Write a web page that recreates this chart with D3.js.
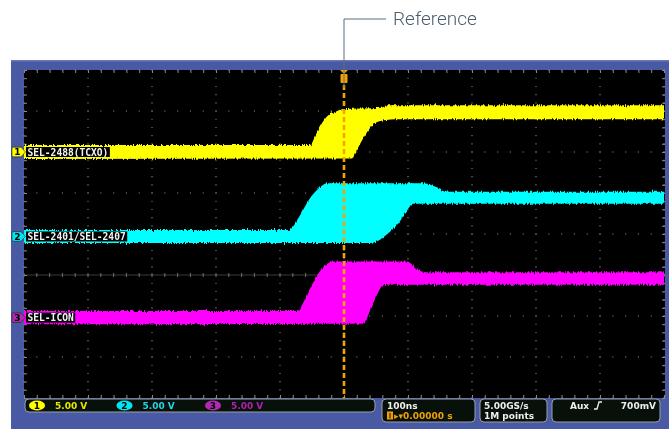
<!DOCTYPE html>
<html lang="en">
<head>
<meta charset="UTF-8">
<title>Reference</title>
<style>
  body { margin: 0; background: #fff; }
  svg { display: block; }
</style>
</head>
<body>
<div id="chart"></div>
<script src="https://cdn.jsdelivr.net/npm/d3@7"></script>
<script>
    const width = 669, height = 429;

    // scope setup
    const timeDomain = [-500, 500];          // ns, 100 ns/div
    const divDomain = [-4, 4];               // 8 vertical divisions
    const voltsPerDiv = [5, 5, 5];
    const chOffsetDiv = [2.0, -0.06, -2.04];
    const chNames = ["SEL-2488(TCXO)", "SEL-2401/SEL-2407", "SEL-ICON"];
    const chColors = ["#ffff00", "#00ffff", "#ff00ff"];
    const chMarkColors = ["#ffff00", "#00e5f0", "#b02ab0"];
    const statusVolts = ["5.00 V", "5.00 V", "5.00 V"];
    const statusTextColors = ["#e6e600", "#1fd6e6", "#b020b0"];
    const timeBase = ["100ns", "0.00000 s"];
    const acq = ["5.00GS/s", "1M points"];
    const trig = ["Aux", "700mV"];

    // persistence envelopes [time ns, volts]: earliest edge (upper) and latest edge (lower)
    const ch1Upper = [[-500, 0.85], [-53, 0.85], [-44, 2.1], [-36, 3.3], [-27, 4.3], [-13, 4.9], [-3, 5.2], [58, 5.4], [68, 5.7], [500, 5.7]];
    const ch1Lower = [[-500, -0.85], [12, -0.8], [20, 0.25], [31, 1.8], [42, 3.05], [52, 3.65], [66, 3.9], [80, 4.0], [500, 4.0]];
    const ch2Upper = [[-500, 0.8], [-86, 0.8], [-70, 2.4], [-55, 4.45], [-39, 5.9], [-27, 6.5], [125, 6.5], [145, 6.0], [165, 5.45], [500, 5.45]];
    const ch2Lower = [[-500, -0.8], [40, -0.8], [50, -0.65], [70, 0.45], [86, 1.7], [97, 3.0], [108, 4.0], [500, 4.0]];
    const ch3Upper = [[-500, 0.8], [-73, 0.8], [-62, 2.1], [-52, 3.7], [-39, 5.5], [-27, 6.5], [-18, 6.85], [98, 6.85], [107, 6.45], [116, 5.8], [128, 5.55], [500, 5.55]];
    const ch3Lower = [[-500, -0.8], [31, -0.75], [39, 0.55], [47, 2.0], [55, 3.35], [61, 3.95], [75, 4.0], [500, 4.0]];

    const envelopes = [[ch1Upper, ch1Lower], [ch2Upper, ch2Lower], [ch3Upper, ch3Lower]];

    const plot = {"left": 24, "right": 665, "top": 70, "bottom": 398};

    const x = d3.scaleLinear().domain(timeDomain).range([24, 664]);
    const y = d3.scaleLinear().domain(divDomain).range([plot.bottom, plot.top]);
    const chY = (ch, v) => y(chOffsetDiv[ch] + v / voltsPerDiv[ch]);

    const svg = d3.select("#chart")
        .append("svg")
        .attr("width", width)
        .attr("height", height)
        .style("font-family", "'DejaVu Sans', sans-serif");

    const defs = svg.append("defs");

    // jagged noise on the trace bands
    const f = defs.append("filter").attr("id", "noise")
        .attr("x", "-2%").attr("y", "-20%").attr("width", "104%").attr("height", "140%");
    f.append("feTurbulence").attr("type", "fractalNoise").attr("baseFrequency", "0.9 0.05")
        .attr("numOctaves", 2).attr("seed", 3).attr("result", "turb");
    f.append("feColorMatrix").attr("in", "turb").attr("type", "matrix")
        .attr("values", "0 0 0 0 0.5  0 1.4 0 0 -0.2  0 0 1 0 0  0 0 0 0 1").attr("result", "disp");
    f.append("feDisplacementMap").attr("in", "SourceGraphic").attr("in2", "disp")
        .attr("scale", 3.5).attr("xChannelSelector", "R").attr("yChannelSelector", "G");

    // frame
    svg.append("rect").attr("x", 11).attr("y", 60).attr("width", width - 11).attr("height", height - 60)
        .attr("fill", "#4a59a3");
    svg.append("rect").attr("x", 11).attr("y", 60).attr("width", width - 11).attr("height", 1.5)
        .attr("fill", "#6a78b8");
    svg.append("rect").attr("x", plot.left).attr("y", plot.top)
        .attr("width", plot.right - plot.left).attr("height", plot.bottom - plot.top)
        .attr("fill", "#000");

    // graticule
    const grid = svg.append("g").attr("class", "graticule");
    grid.selectAll("line.v").data(x.ticks(10)).join("line")
        .attr("class", "v")
        .attr("x1", d => x(d)).attr("x2", d => x(d))
        .attr("y1", plot.top).attr("y2", plot.bottom)
        .attr("stroke", "#8a8a8a").attr("stroke-width", 1.1)
        .attr("stroke-dasharray", `1.1 ${(y(0) - y(0.2)) - 1.1}`)
        .attr("stroke-dashoffset", -((y(0) - y(0.2)) - 0.5));
    grid.selectAll("line.h").data(y.ticks(8)).join("line")
        .attr("class", "h")
        .attr("y1", d => y(d)).attr("y2", d => y(d))
        .attr("x1", plot.left).attr("x2", plot.right)
        .attr("stroke", "#8a8a8a").attr("stroke-width", 1.1)
        .attr("stroke-dasharray", `1.1 ${(x(20) - x(0)) - 1.1}`)
        .attr("stroke-dashoffset", -((x(20) - x(0)) - 0.5));

    // cross line with minor ticks
    grid.append("line").attr("x1", plot.left).attr("x2", plot.right)
        .attr("y1", y(-1)).attr("y2", y(-1))
        .attr("stroke", "#3a3a3a").attr("stroke-width", 1);
    grid.selectAll("line.cross").data(x.ticks(50)).join("line")
        .attr("class", "cross")
        .attr("x1", d => x(d)).attr("x2", d => x(d))
        .attr("y1", y(-1) - 2).attr("y2", y(-1) + 2)
        .attr("stroke", "#6a6a6a");

    // edge ticks
    const edge = svg.append("g").attr("class", "edges").attr("color", "#8a8a8a");
    edge.append("g").attr("transform", `translate(0,${plot.top})`)
        .call(d3.axisTop(x).ticks(50).tickSize(-3).tickFormat("").tickSizeOuter(0));
    edge.append("g").attr("transform", `translate(0,${plot.bottom})`)
        .call(d3.axisBottom(x).ticks(50).tickSize(-3).tickFormat("").tickSizeOuter(0));
    edge.append("g").attr("transform", `translate(${plot.left},0)`)
        .call(d3.axisLeft(y).ticks(40).tickSize(-3).tickFormat("").tickSizeOuter(0));
    edge.append("g").attr("transform", `translate(${plot.right},0)`)
        .call(d3.axisRight(y).ticks(40).tickSize(-3).tickFormat("").tickSizeOuter(0));
    edge.selectAll(".domain").remove();

    // traces: area below the upper envelope, clipped to the region above the lower envelope
    defs.append("clipPath").attr("id", "screen").append("rect")
        .attr("x", plot.left).attr("y", plot.top)
        .attr("width", plot.right - plot.left).attr("height", plot.bottom - plot.top);
    const traces = svg.append("g").attr("clip-path", "url(#screen)")
        .append("g").attr("class", "traces").attr("filter", "url(#noise)");
    envelopes.forEach(([upper, lower], ch) => {
        const clipId = `clip${ch}`;
        defs.append("clipPath").attr("id", clipId)
            .append("path")
            .attr("d", d3.area()
                .x(d => x(d[0]))
                .y0(d => chY(ch, d[1]))
                .y1(plot.top - 20)
                .curve(d3.curveMonotoneX)(lower));
        traces.append("path")
            .attr("d", d3.area()
                .x(d => x(d[0]))
                .y0(plot.bottom + 20)
                .y1(d => chY(ch, d[1]))
                .curve(d3.curveMonotoneX)(upper))
            .attr("clip-path", `url(#${clipId})`)
            .attr("fill", chColors[ch]);
    });

    // reference / trigger position
    const xRef = x(0);
    svg.append("line").attr("x1", xRef).attr("x2", xRef)
        .attr("y1", 85).attr("y2", plot.bottom)
        .attr("stroke", "#f5a300").attr("stroke-width", 2.6)
        .attr("stroke-dasharray", "5 3");
    svg.append("path")
        .attr("d", `M${xRef - 4},${plot.top} L${xRef + 4},${plot.top} L${xRef},${plot.top + 4} Z`)
        .attr("fill", "#f5a300");
    svg.append("rect").attr("x", xRef - 3.5).attr("y", plot.top + 4).attr("width", 7).attr("height", 9)
        .attr("rx", 1).attr("fill", "#f5a300");

    // annotation leader
    svg.append("path")
        .attr("d", `M${xRef},88 L${xRef},19 L386,19`)
        .attr("fill", "none").attr("stroke", "#5b6f80").attr("stroke-width", 1);
    svg.append("text").attr("x", 393).attr("y", 25)
        .attr("font-family", "Roboto, sans-serif").attr("font-weight", 300)
        .attr("font-size", 19).attr("fill", "#4a5e6e")
        .text("Reference");

    // channel markers and labels
    chNames.forEach((name, ch) => {
        const y0 = chY(ch, 0);
        const g = svg.append("g").attr("transform", `translate(0,${y0})`);
        g.append("path")
            .attr("d", "M13,-4.8 L21,-4.8 L25.5,0 L21,4.8 L13,4.8 Q12,4.8 12,3.8 L12,-3.8 Q12,-4.8 13,-4.8 Z")
            .attr("fill", chMarkColors[ch]).attr("stroke", "#222").attr("stroke-width", 0.6);
        g.append("text").attr("x", 17.5).attr("y", 3.3).attr("text-anchor", "middle")
            .attr("font-size", 9).attr("font-weight", "bold").attr("fill", "#000")
            .text(ch + 1);
        const box = g.append("rect").attr("x", 26).attr("y", -5).attr("height", 10).attr("fill", "#000");
        const t = g.append("text").attr("x", 27.5).attr("y", 3.6)
            .attr("font-family", "'DejaVu Sans Mono', monospace").attr("font-weight", "bold")
            .attr("font-size", 9.6).attr("fill", "#f4f4f4")
            .text(name);
        box.attr("width", t.node().getComputedTextLength() + 3);
    });

    // status bar
    const bar = svg.append("g").attr("class", "status")
        .attr("font-size", 9).attr("font-weight", "bold");
    const boxes = [[25, 375, 13], [382, 475, 23], [480, 547, 23], [552, 660, 23]];
    bar.selectAll("rect.box").data(boxes).join("rect")
        .attr("class", "box")
        .attr("x", d => d[0]).attr("y", 399)
        .attr("width", d => d[1] - d[0]).attr("height", d => d[2])
        .attr("rx", 4)
        .attr("fill", "#07110a").attr("stroke", "#9aa1a8").attr("stroke-width", 1);

    const chStatusX = [37, 124.5, 213];
    chStatusX.forEach((cx, ch) => {
        bar.append("ellipse").attr("cx", cx).attr("cy", 405.5).attr("rx", 8).attr("ry", 5)
            .attr("fill", chMarkColors[ch]);
        bar.append("text").attr("x", cx).attr("y", 409).attr("text-anchor", "middle")
            .attr("fill", "#000").text(ch + 1);
        bar.append("text").attr("x", cx + 18).attr("y", 409.3)
            .attr("fill", statusTextColors[ch]).text(statusVolts[ch]);
    });

    bar.append("text").attr("x", 387).attr("y", 408.5).attr("fill", "#eee").text(timeBase[0]);
    bar.append("rect").attr("x", 387).attr("y", 411.5).attr("width", 6).attr("height", 8).attr("fill", "#f0a000");
    bar.append("rect").attr("x", 389.5).attr("y", 413).attr("width", 1).attr("height", 5.5).attr("fill", "#07110a");
    bar.append("text").attr("x", 394).attr("y", 419).attr("fill", "#f0a000")
        .text("\u25B8\u25BE" + timeBase[1]);

    bar.append("text").attr("x", 484).attr("y", 408.5).attr("fill", "#eee").text(acq[0]);
    bar.append("text").attr("x", 484).attr("y", 419).attr("fill", "#eee").text(acq[1]);

    bar.append("text").attr("x", 570).attr("y", 408.5).attr("fill", "#eee").text(trig[0]);
    bar.append("path").attr("d", "M594,409 L597,409 L599,402 L602,402")
        .attr("fill", "none").attr("stroke", "#eee").attr("stroke-width", 1.3);
    bar.append("text").attr("x", 656).attr("y", 408.5).attr("text-anchor", "end")
        .attr("fill", "#eee").text(trig[1]);
</script>
</body>
</html>
